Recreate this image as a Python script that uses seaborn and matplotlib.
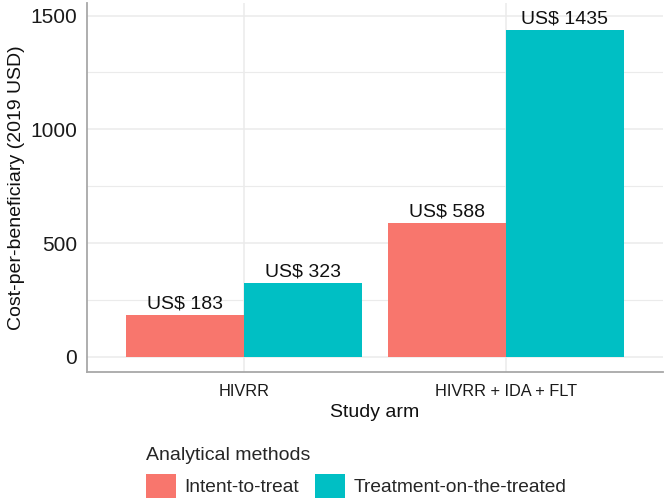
import matplotlib
matplotlib.use("Agg")
import matplotlib.pyplot as plt
import pandas as pd
import seaborn as sns
from matplotlib.ticker import MultipleLocator

# =========================
# DATA
# =========================

arms = ["HIVRR", "HIVRR + IDA + FLT"]
methods = ["Intent-to-treat", "Treatment-on-the-treated"]
itt_cost = [183, 588]
tot_cost = [323, 1435]
method_colors = ["#F8766D", "#00BFC4"]

df = pd.DataFrame({
    "arm": arms * 2,
    "method": [methods[0]] * 2 + [methods[1]] * 2,
    "cost": itt_cost + tot_cost,
})

# =========================
# PLOT
# =========================

sns.set_theme(style="white")
plt.rcParams["font.family"] = ["Liberation Sans", "DejaVu Sans"]

fig = plt.figure(figsize=(6.66, 5.04), dpi=100)
ax = fig.add_axes([87 / 666, 1 - 372 / 504, 576 / 666, 369 / 504])

sns.barplot(data=df, x="arm", y="cost", hue="method", order=arms,
            hue_order=methods, palette=method_colors, saturation=1,
            width=0.9, ax=ax, legend=True, zorder=3,
            edgecolor="none", linewidth=0)

for cont in ax.containers:
    ax.bar_label(cont, labels=[f"US$ {v:.0f}" for v in cont.datavalues],
                 padding=2, fontsize=14, color="#111111")

ax.set_xlim(-0.6, 1.6)
ax.set_ylim(-66, 1555)
ax.yaxis.set_major_locator(MultipleLocator(500))
ax.yaxis.set_minor_locator(MultipleLocator(250))
ax.grid(True, which="major", color="#EBEBEB", linewidth=1.1, zorder=0)
ax.grid(True, which="minor", axis="y", color="#EBEBEB", linewidth=0.8, zorder=0)
ax.set_axisbelow(True)

for side in ["top", "right"]:
    ax.spines[side].set_visible(False)
for side in ["left", "bottom"]:
    ax.spines[side].set_color("#A8A8A8")
    ax.spines[side].set_linewidth(1.3)

ax.tick_params(axis="y", which="both", length=0, pad=7, labelsize=15, labelcolor="#1a1a1a")
ax.tick_params(axis="x", which="both", length=0, pad=9, labelsize=11.8, labelcolor="#1a1a1a")

ax.set_xlabel("Study arm", fontsize=14, labelpad=3, color="#111111")
ax.set_ylabel("Cost-per-beneficiary (2019 USD)", fontsize=14, labelpad=4, color="#111111")

handles, labels = ax.get_legend_handles_labels()
ax.get_legend().remove()
fig.legend(handles, labels, title="Analytical methods", loc="upper left",
           bbox_to_anchor=(146 / 666, 1 - 447 / 504), ncol=2, frameon=False,
           fontsize=13.8, title_fontsize=14, alignment="left",
           handlelength=1.55, handleheight=1.55, handletextpad=0.45,
           columnspacing=0.85, borderpad=0, borderaxespad=0)

fig.savefig("out.png", dpi=100)
